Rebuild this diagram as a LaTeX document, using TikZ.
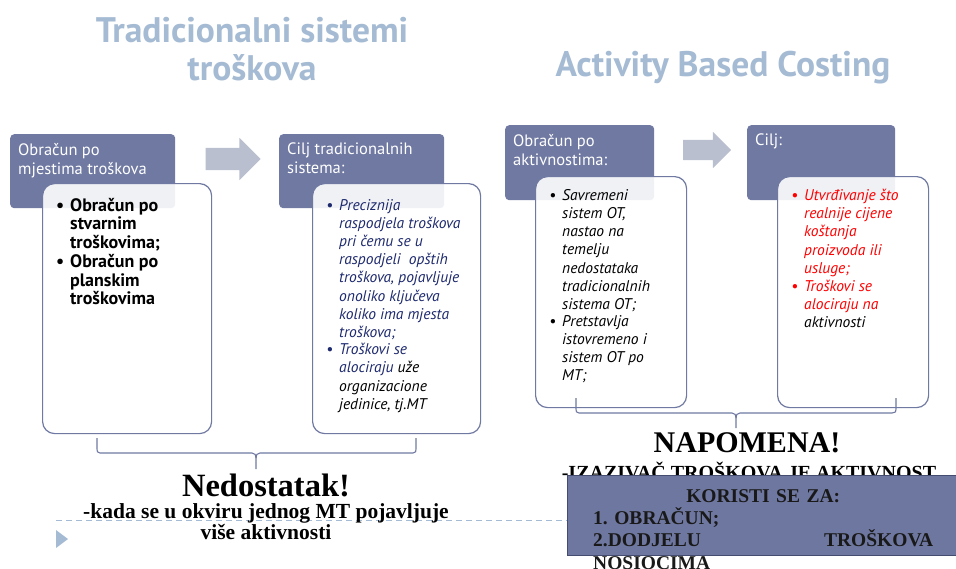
\documentclass[tikz,border=0pt]{standalone}
\usepackage{fontspec}
\setmainfont{Liberation Serif}
\setsansfont{PT Sans}
\usepackage{tikz}
\usetikzlibrary{positioning,shapes.arrows}

\definecolor{hdrblue}{RGB}{111,121,161}
\definecolor{arrowgrey}{RGB}{186,191,207}
\definecolor{titleblue}{RGB}{165,187,211}
\definecolor{textnavy}{RGB}{30,42,110}
\definecolor{notefill}{RGB}{110,119,160}
\definecolor{noteline}{RGB}{68,76,112}

\newcommand{\blt}{\llap{\textbullet\hspace{6pt}}}

\begin{document}
\begin{tikzpicture}[x=1pt,y=-1pt,
  title/.style={font=\sffamily\bfseries\fontsize{35.5}{38}\selectfont,text=titleblue,align=center},
  head box/.style={fill=hdrblue,rounded corners=4pt,anchor=north west,inner sep=0pt,minimum height=74pt},
  head text/.style={anchor=north west,text=white,align=left,inner sep=0pt,
    font=\sffamily\fontsize{16.5}{19}\selectfont},
  body box/.style={draw=hdrblue,line width=1.2pt,fill=white,fill opacity=0.9,
    rounded corners=12pt,anchor=north west,inner sep=0pt},
  item/.style={anchor=north west,align=left,inner sep=0pt},
  bold item/.style={item,font=\sffamily\bfseries\fontsize{18}{18.5}\selectfont},
  ital item/.style={item,font=\sffamily\itshape\fontsize{15.5}{18.2}\selectfont},
  block arrow/.style={single arrow,fill=arrowgrey,draw=none,single arrow head indent=0pt},
  brace line/.style={draw=hdrblue,line width=1.1pt},
  note/.style={font=\bfseries\fontsize{21.5}{21}\selectfont\frenchspacing,align=center,inner sep=0pt}]

\useasboundingbox (0,0) rectangle (956,568);

% titles
\node[title] (tTrad) at (252,49) {Tradicionalni sistemi\\troškova};
\node[title] (tABC) at (723,68) {Activity Based Costing};

% traditional side
\node[head box,minimum width=165pt] (hdrA) at (10,134) {};
\node[head text] (hdrAtxt) at (18,143) {Obračun po\\mjestima troškova};
\node[block arrow,minimum height=55pt,minimum width=42pt,inner sep=11pt,
  single arrow head extend=10pt] (arrA) at (227.5,159) {};
\node[head box,minimum width=165pt] (hdrB) at (279,134) {};
\node[head text] (hdrBtxt) at (287,143) {Cilj tradicionalnih\\sistema:};

\node[body box,minimum width=169pt,minimum height=250pt] (bodyA) at (42,183) {};
\node[body box,minimum width=168pt,minimum height=250pt] (bodyB) at (312,183) {};

\node[bold item] (a1) at (70,198) {\blt Obračun po\\stvarnim\\troškovima;};
\node[bold item,below=3pt of a1.south west,anchor=north west] (a2)
  {\blt Obračun po\\planskim\\troškovima};

\node[ital item,text=textnavy] (b1) at (339,199)
  {\blt Preciznija\\raspodjela troškova\\pri čemu se u\\raspodjeli\ \ opštih\\troškova, pojavljuje\\onoliko ključeva\\koliko ima mjesta\\troškova;};
\node[ital item,text=textnavy,below=3pt of b1.south west,anchor=north west] (b2)
  {\blt Troškovi se\\alociraju {\color{black}uže}\\{\color{black}organizacione}\\{\color{black}jedinice, tj.MT}};

% activity based side
\node[head box,minimum width=149pt,minimum height=75pt] (hdrC) at (505,125) {};
\node[head text] (hdrCtxt) at (513,134) {Obračun po\\aktivnostima:};
\node[block arrow,minimum height=48pt,minimum width=36pt,inner sep=10pt,
  single arrow head extend=8pt] (arrB) at (702,150) {};
\node[head box,minimum width=148pt,minimum height=75pt] (hdrD) at (747,125) {};
\node[head text] (hdrDtxt) at (755,134) {Cilj:};

\node[body box,minimum width=151pt,minimum height=231pt] (bodyC) at (535,176) {};
\node[body box,minimum width=151pt,minimum height=231pt] (bodyD) at (777,176) {};

\node[ital item] (c1) at (562,189)
  {\blt Savremeni\\sistem OT,\\nastao na\\temelju\\nedostataka\\tradicionalnih\\sistema OT;};
\node[ital item,below=3pt of c1.south west,anchor=north west] (c2)
  {\blt Pretstavlja\\istovremeno i\\sistem OT po\\MT;};

\node[ital item,text=red] (d1) at (804,189)
  {\blt Utvrđivanje što\\realnije cijene\\koštanja\\proizvoda ili\\usluge;};
\node[ital item,text=red,below=3pt of d1.south west,anchor=north west] (d2)
  {\blt Troškovi se\\alociraju na\\{\color{black}aktivnosti}};

% braces
\draw[brace line] (97,438) -- (97,449) .. controls (97,452) .. (100,453) -- (252,453)
  .. controls (255,453) and (256,455) .. (256,458) -- (256,469);
\draw[brace line] (256,458) .. controls (256,455) and (257,453) .. (260,453) -- (413,453)
  .. controls (416,452) .. (416,449) -- (416,438);
\draw[brace line] (576,398) -- (576,409) .. controls (576,412) .. (579,413) -- (732,413)
  .. controls (735,413) and (736,415) .. (736,418) -- (736,428);
\draw[brace line] (736,418) .. controls (736,415) and (737,413) .. (740,413) -- (892,413)
  .. controls (896,412) .. (896,409) -- (896,398);

% slide decoration
\draw[titleblue,dashed,dash pattern=on 6pt off 4pt,line width=0.9pt] (56,520) -- (575,520);
\fill[titleblue] (56,530) -- (68,539) -- (56,548) -- cycle;

% notes
\node[note,font=\bfseries\fontsize{32.5}{34}\selectfont] (nedo) at (266,485) {Nedostatak!};
\node[note,anchor=north] (nedoTxt) at (266,503) {-kada se u okviru jednog MT pojavljuje\\više aktivnosti};

\node[note,font=\bfseries\fontsize{30}{32}\selectfont] (napo) at (747,443) {NAPOMENA!};
\node[note,font=\bfseries\fontsize{20}{21}\selectfont] (napoTxt) at (749,471) {-IZAZIVAČ TROŠKOVA JE AKTIVNOST};

\node[fill=notefill,draw=noteline,line width=1.2pt,anchor=north west,inner sep=0pt,
  minimum width=400pt,minimum height=80pt] (koristi) at (567,475) {};
\node[note,text=black!90,anchor=north west,text width=340pt,align=left,
  font=\bfseries\fontsize{19.5}{22.3}\selectfont] (koristiTxt) at (593,489)
  {\makebox[\linewidth]{KORISTI SE ZA:}\\1.\ OBRAČUN;\\\makebox[\linewidth]{2.DODJELU\hfill TROŠKOVA}\\NOSIOCIMA};

\end{tikzpicture}
\end{document}
